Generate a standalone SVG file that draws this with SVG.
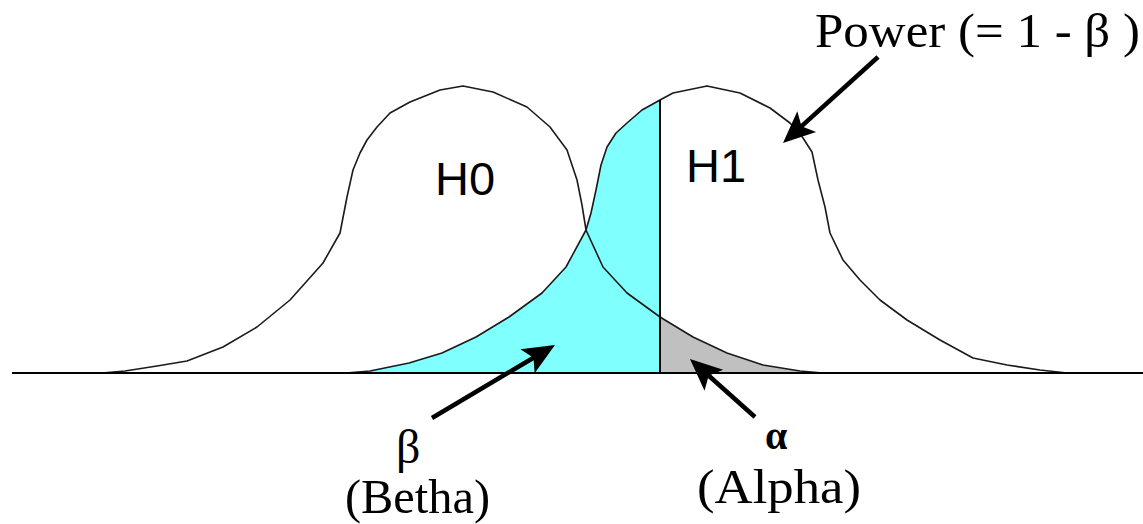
<svg xmlns="http://www.w3.org/2000/svg" width="1143" height="524" viewBox="0 0 1143 524">
  <style>
    .curve { fill: none; stroke: #1a1a1a; stroke-width: 1.6; stroke-linejoin: round; stroke-linecap: round; }
    .axis { stroke: #000; stroke-width: 2; fill: none; }
    .arrow { stroke: #000; stroke-width: 4.5; fill: none; marker-end: url(#dart); }
    .serif { font-family: "Liberation Serif", "Times New Roman", serif; fill: #000; }
    .sans { font-family: "Liberation Sans", Arial, sans-serif; fill: #000; }
  </style>
  <defs>
    <marker id="dart" markerUnits="userSpaceOnUse" viewBox="-14 -16 36 32" markerWidth="36" markerHeight="32" refX="0" refY="0" orient="auto">
      <path d="M20,0 L-12,-14 L-5,0 L-12,14 Z" fill="#000"/>
    </marker>
  </defs>
  <rect x="0" y="0" width="1143" height="524" fill="#fff"/>

  <g id="beta-region">
    <polygon fill="#80ffff" points="346,373 370,371 409,363 442,353 476,337 509,317 542,293 566,267 586,230 591,213 596,190 601,165 607,147 616,133 627,123 642,110 660,100 660,373"/>
  </g>
  <g id="alpha-region">
    <polygon fill="#c0c0c0" points="660,317 693,337 727,353 763,365 800,371 823,373 660,373"/>
  </g>

  <g id="h0-curve">
    <polyline class="curve" points="102,373 125,371 157,366 187,361 223,347 257,327 290,300 323,263 340,233 347,197 353,170 360,153 367,140 377,127 390,113 410,102 440,90 463,86 493,92 527,107 550,127 567,150 577,180 582,205 586,230 603,267 627,293 660,317 693,337 727,353 763,365 800,371 823,373"/>
  </g>
  <g id="h1-curve">
    <polyline class="curve" points="346,373 370,371 409,363 442,353 476,337 509,317 542,293 566,267 586,230 591,213 596,190 601,165 607,147 616,133 627,123 642,110 660,100 673,93 707,86 740,93 770,108 790,123 803,138 812,152 818,180 825,207 830,233 843,260 860,280 880,300 907,320 940,340 973,358 1007,365 1040,370 1067,373"/>
  </g>

  <g id="axis">
    <line class="axis" x1="12" y1="373" x2="1143" y2="373"/>
    <line class="axis" x1="660" y1="100" x2="660" y2="373" stroke-width="1.8"/>
  </g>

  <g id="label-h0"><text class="sans" x="435" y="195" font-size="47">H0</text></g>
  <g id="label-h1"><text class="sans" x="686" y="182" font-size="47">H1</text></g>
  <g id="label-power"><text class="serif" x="815" y="47" font-size="49" textLength="325" lengthAdjust="spacingAndGlyphs">Power (= 1 - β )</text></g>
  <g id="label-beta">
    <text class="serif" x="396" y="463" font-size="48">β</text>
    <text class="serif" x="345" y="513" font-size="48" textLength="145" lengthAdjust="spacingAndGlyphs">(Betha)</text>
  </g>
  <g id="label-alpha">
    <text class="serif" x="765" y="449" font-size="40" font-weight="bold">α</text>
    <text class="serif" x="697" y="503" font-size="48" textLength="164" lengthAdjust="spacingAndGlyphs">(Alpha)</text>
  </g>

  <g id="connectors">
    <line class="arrow" x1="878" y1="57" x2="797.8" y2="129.6"/>
    <line class="arrow" x1="432" y1="418" x2="537.8" y2="355.2"/>
    <line class="arrow" x1="755" y1="417" x2="704.9" y2="372.3"/>
  </g>
</svg>
